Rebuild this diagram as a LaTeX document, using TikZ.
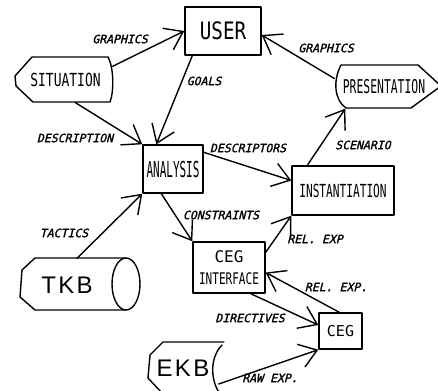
\documentclass[tikz,border=0pt]{standalone}
\usepackage{fontspec}
\usepackage{graphicx}
\usetikzlibrary{arrows.meta}
\newfontfamily\lblfont[FakeSlant=0.25,FakeBold=1.5]{DejaVu Sans Mono}
\newfontfamily\boxfont{DejaVu Sans Mono}
\newfontfamily\kbfont[LetterSpace=10]{Liberation Sans}
\newcommand\narrowtext[2]{\scalebox{#1}[1]{#2}}
\begin{document}
\begin{tikzpicture}[x=1pt,y=-1pt, line width=1.4pt, line join=round, line cap=round,
 box/.style={draw, rectangle, inner sep=0pt},
 plain/.style={rectangle, inner sep=0pt},
 lbl/.style={font=\lblfont\fontsize{11.5}{12}\selectfont, inner sep=0pt},
 kb/.style={plain, font=\kbfont\fontsize{24}{24}\selectfont},
 flow/.style={-{Straight Barb[length=17pt,width=24pt]}},
]
\useasboundingbox (0,0) rectangle (438,390);
\clip (0,0) rectangle (438,390);
\fill[white] (0,0) rectangle (438,390);

% boxes
\node[box, minimum width=76pt, minimum height=48pt, font=\boxfont\fontsize{24}{24}\selectfont] (user) at (223,31) {\narrowtext{0.8}{USER}};
\node[box, minimum width=60pt, minimum height=48pt, font=\boxfont\fontsize{22}{22}\selectfont] (analysis) at (173,169) {\narrowtext{0.5}{ANALYSIS}};
\node[box, minimum width=102pt, minimum height=49pt, font=\boxfont\fontsize{18}{18}\selectfont] (inst) at (343,190.5) {\narrowtext{0.62}{INSTANTIATION}};
\node[box, minimum width=72pt, minimum height=51pt, align=center, font=\boxfont\fontsize{16}{22}\selectfont] (cegi) at (229,267.5) {CEG\\\narrowtext{0.69}{INTERFACE}};
\node[box, minimum width=43pt, minimum height=36pt, font=\boxfont\fontsize{15}{15}\selectfont] (ceg) at (340.5,331) {CEG};

% situation
\node[plain, minimum width=93pt, minimum height=45pt, font=\boxfont\fontsize{18}{18}\selectfont] (situation) at (65.5,79.5) {\narrowtext{0.72}{SITUATION}};
\draw (32,57) -- (108,57) .. controls (114,68) and (114,92) .. (110,102) -- (33,102) -- (16,86) -- (15,76) -- cycle;

% presentation
\node[plain, minimum width=98pt, minimum height=43pt, font=\boxfont\fontsize{19}{19}\selectfont] (pres) at (384,86.5) {\narrowtext{0.6}{PRESENTATION}};
\draw (341,65) -- (418,65) -- (441,86) -- (411,108) -- (346,108) .. controls (334,100) and (333,80) .. (341,65);

% TKB
\node[kb, minimum width=94pt, minimum height=52pt] (tkb) at (67,285) {TKB};
\draw (125,258) -- (35,258) -- (22,270) -- (20,297) -- (35,310) -- (125,310);
\draw (126,284) ellipse [x radius=14, y radius=26];

% EKB
\node[kb, minimum width=70pt, minimum height=50pt] (ekb) at (183,368) {EKB};
\draw (224,342) -- (163,342) -- (150,355) -- (148,378) -- (162,393);
\draw (222,345) .. controls (211,356) and (209,378) .. (220,394);

% labels
\node[lbl] (lg1) at (120,39) {GRAPHICS};
\node[lbl] (lg2) at (326,48) {GRAPHICS};
\node[lbl] (lgoals) at (204,81) {GOALS};
\node[lbl] (ldesc) at (75,138) {DESCRIPTION};
\node[lbl] (ldescr) at (248,148) {DESCRIPTORS};
\node[lbl] (lscen) at (363,145) {SCENARIO};
\node[lbl] (ltac) at (64,233) {TACTICS};
\node[lbl] (lcons) at (221,215) {CONSTRAINTS};
\node[lbl] (lrel1) at (315,239) {REL. EXP};
\node[lbl] (lrel2) at (336,287) {REL. EXP.};
\node[lbl] (ldir) at (250,318) {DIRECTIVES};
\node[lbl] (lraw) at (270,378) {RAW EXP.};

% connectors
\draw[flow] ([yshift=-10pt]situation.north east) -- (user.west);
\draw[flow] ([yshift=8pt]pres.west) -- ([yshift=-4pt]user.east);
\draw[flow] ([xshift=8pt]user.south west) -- ([xshift=14pt]analysis.north west);
\draw[flow] ([xshift=10pt]situation.south) -- (analysis.north west);
\draw[flow] ([yshift=-8pt]analysis.north east) -- ([yshift=10pt]inst.west);
\draw[flow] ([xshift=16pt]inst.north west) -- ([xshift=11pt]pres.south west);
\draw[flow] ([xshift=10pt]tkb.north) -- (analysis.south west);
\draw[flow] ([xshift=19pt]analysis.south west) -- (cegi.north west);
\draw[flow] ([yshift=-11pt]cegi.north east) -- (inst.south west);
\draw[flow] ([xshift=21pt]ceg.north west) -- ([yshift=-5pt]cegi.east);
\draw[flow] ([xshift=-15pt]cegi.south east) -- ([yshift=6pt]ceg.west);
\draw[flow] ([yshift=-16pt]ekb.east) -- (ceg.south west);
\end{tikzpicture}
\end{document}
